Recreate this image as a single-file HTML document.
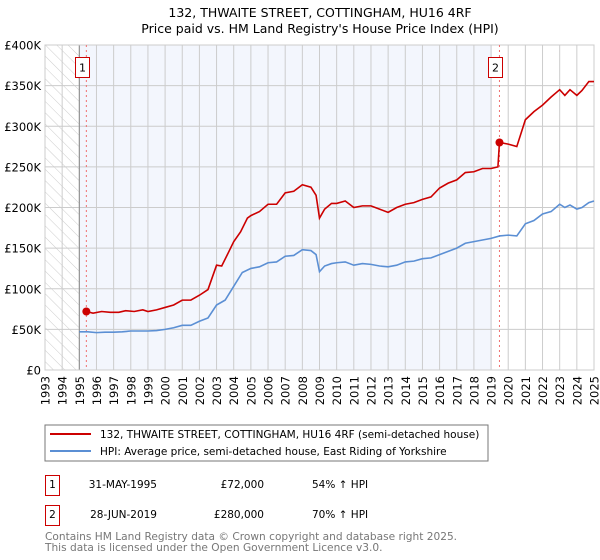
<!DOCTYPE html>
<html><head><meta charset="utf-8"><style>
body{margin:0;background:#fff;font-family:"DejaVu Sans","Liberation Sans",sans-serif;}
svg{display:block}
</style></head><body>
<svg width="600" height="560" viewBox="0 0 600 560" id="svg">
<defs><pattern id="hatch" width="8" height="8" patternUnits="userSpaceOnUse" patternTransform="rotate(-45)"><line x1="0" y1="0" x2="0" y2="8" stroke="#ccc" stroke-width="1"/></pattern></defs>
<text x="320" y="17" text-anchor="middle" font-size="12.5">132, THWAITE STREET, COTTINGHAM, HU16 4RF</text>
<text x="320" y="33" text-anchor="middle" font-size="12.5">Price paid vs. HM Land Registry's House Price Index (HPI)</text>
<g id="plot"></g>
<rect x="45" y="425" width="443" height="36" fill="#fff" stroke="#777"/>
<line x1="50" y1="434" x2="91" y2="434" stroke="#cc0000" stroke-width="2"/>
<text x="100" y="438" font-size="10.5">132, THWAITE STREET, COTTINGHAM, HU16 4RF (semi-detached house)</text>
<line x1="50" y1="451" x2="91" y2="451" stroke="#5b8fd4" stroke-width="2"/>
<text x="100" y="455" font-size="10.5">HPI: Average price, semi-detached house, East Riding of Yorkshire</text>
<g font-size="10.5">
<rect x="45.5" y="475.5" width="14" height="20" fill="none" stroke="#cc0000"/>
<text x="52.5" y="488" text-anchor="middle">1</text>
<text x="157" y="488" text-anchor="end">31-MAY-1995</text>
<text x="264" y="488" text-anchor="end">£72,000</text>
<text x="312" y="488">54% ↑ HPI</text></g>
<g font-size="10.5">
<rect x="45.5" y="505.5" width="14" height="20" fill="none" stroke="#cc0000"/>
<text x="52.5" y="518" text-anchor="middle">2</text>
<text x="157" y="518" text-anchor="end">28-JUN-2019</text>
<text x="264" y="518" text-anchor="end">£280,000</text>
<text x="312" y="518">70% ↑ HPI</text></g>
<text x="45" y="540" font-size="10.6" fill="#777">Contains HM Land Registry data © Crown copyright and database right 2025.</text>
<text x="45" y="551" font-size="10.6" fill="#777">This data is licensed under the Open Government Licence v3.0.</text>
</svg>
<script>
const hpiYears=[1995,1995.5,1996,1996.5,1997,1997.5,1998,1998.5,1999,1999.5,2000,2000.5,2001,2001.5,2002,2002.5,2003,2003.5,2004,2004.5,2005,2005.5,2006,2006.5,2007,2007.5,2008,2008.5,2008.8,2009,2009.3,2009.7,2010,2010.5,2011,2011.5,2012,2012.5,2013,2013.5,2014,2014.5,2015,2015.5,2016,2016.5,2017,2017.5,2018,2018.5,2019,2019.5,2020,2020.5,2021,2021.5,2022,2022.5,2023,2023.3,2023.6,2024,2024.3,2024.7,2025];
const hpiValues=[47,47,46,46.5,46.5,47,48,48,48,48.5,50,52,55,55,60,64,80,86,103,120,125,127,132,133,140,141,148,147,142,121,128,131,132,133,129,131,130,128,127,129,133,134,137,138,142,146,150,156,158,160,162,165,166,165,180,184,192,195,204,200,203,198,200,206,208];
const propYears=[1995.41,1995.8,1996.3,1996.8,1997.3,1997.7,1998.2,1998.7,1999,1999.5,2000,2000.5,2001,2001.5,2002,2002.5,2003,2003.3,2003.7,2004,2004.4,2004.8,2005,2005.5,2006,2006.5,2007,2007.5,2008,2008.5,2008.8,2009,2009.3,2009.7,2010,2010.5,2011,2011.5,2012,2012.5,2013,2013.5,2014,2014.5,2015,2015.5,2016,2016.5,2017,2017.5,2018,2018.5,2019,2019.4,2019.49,2020,2020.5,2021,2021.5,2022,2022.5,2023,2023.3,2023.6,2024,2024.3,2024.7,2025];
const propValues=[72,70,72,71,71,73,72,74,72,74,77,80,86,86,92,99,129,128,145,158,170,187,190,195,204,204,218,220,228,225,215,187,198,205,205,208,200,202,202,198,194,200,204,206,210,213,224,230,234,243,244,248,248,250,280,278,275,308,318,326,336,345,338,345,338,344,355,355];
const yTicks=[0,50,100,150,200,250,300,350,400];
const yTickLabels=["£0","£50K","£100K","£150K","£200K","£250K","£300K","£350K","£400K"];
const xTicks=[1993,1994,1995,1996,1997,1998,1999,2000,2001,2002,2003,2004,2005,2006,2007,2008,2009,2010,2011,2012,2013,2014,2015,2016,2017,2018,2019,2020,2021,2022,2023,2024,2025];
const sales=[{n:"1",x:1995.41,v:72},{n:"2",x:2019.49,v:280}];
const L=45,R=594,T=45,B=370;
const xs=y=>L+(y-1993)/(2025-1993)*(R-L);
const ys=v=>B-v/400*(B-T);
const NS="http://www.w3.org/2000/svg";
const g=document.getElementById('plot');
function mk(t,a,p){const e=document.createElementNS(NS,t);for(const k in a)e.setAttribute(k,a[k]);(p||g).appendChild(e);return e;}
let e;
e=mk('rect',{x:xs(1995),y:T,width:xs(2019.05)-xs(1995),height:B-T,fill:'#f3f6fd'});


e=mk('rect',{x:L,y:T,width:xs(1995)-L,height:B-T,fill:'url(#hatch)'});


xTicks.forEach(t=>{
 e=mk('line',{x1:xs(t),x2:xs(t),y1:T,y2:B,stroke:'#ccc'});
 
 
 e=mk('text',{x:0,y:0,'font-size':'11.5','text-anchor':'end',transform:`translate(${xs(t)+4.5},${B+6}) rotate(-90)`});
 e.textContent=t;
 
 
});
yTicks.forEach((t,i)=>{
 e=mk('line',{x1:L,x2:R,y1:ys(t),y2:ys(t),stroke:'#ccc'});
 
 
 e=mk('text',{x:L-4,y:ys(t)+4.5,'font-size':'11.5','text-anchor':'end'});
 e.textContent=yTickLabels[i];
 
 
});
e=mk('line',{x1:xs(1995),x2:xs(1995),y1:T,y2:B,stroke:'#888'});


e=mk('rect',{x:L,y:T,width:R-L,height:B-T,fill:'none',stroke:'#ccc'});


sales.forEach(s=>{
 e=mk('line',{x1:xs(s.x),x2:xs(s.x),y1:T,y2:B,stroke:'#f07070','stroke-dasharray':'2,3'});
 
 
 e=mk('rect',{x:Math.round(xs(s.x)-11)+0.5,y:57.5,width:14,height:20,fill:'#fff',stroke:'#cc0000'});
 
 
 e=mk('text',{x:Math.round(xs(s.x)-11)+7.5,y:71.5,'font-size':'11','text-anchor':'middle'});
 e.textContent=s.n;
 
 
});
e=mk('polyline',{points:hpiYears.map((y,i)=>xs(y)+','+ys(hpiValues[i])).join(' '),fill:'none',stroke:'#5b8fd4','stroke-width':'1.6'});


e=mk('polyline',{points:propYears.map((y,i)=>xs(y)+','+ys(propValues[i])).join(' '),fill:'none',stroke:'#cc0000','stroke-width':'1.6'});


sales.forEach(s=>{
 e=mk('circle',{cx:xs(s.x),cy:ys(s.v),r:4,fill:'#cc0000'});
 
 
});
</script>
</body></html>
